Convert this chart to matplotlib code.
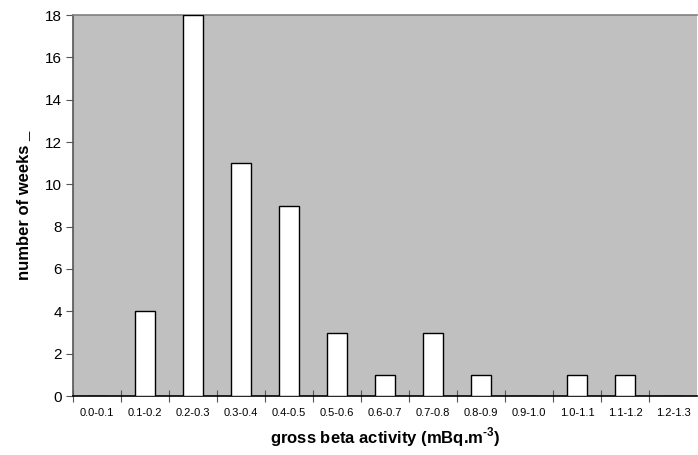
# histogram of weekly gross beta activity
import numpy as np
import matplotlib.pyplot as plt

categories = ['0.0-0.1', '0.1-0.2', '0.2-0.3', '0.3-0.4', '0.4-0.5', '0.5-0.6', '0.6-0.7',
              '0.7-0.8', '0.8-0.9', '0.9-1.0', '1.0-1.1', '1.1-1.2', '1.2-1.3']
weeks = [0, 4, 18, 11, 9, 3, 1, 3, 1, 0, 1, 1, 0]

plt.rcParams['font.family'] = ['Liberation Sans', 'DejaVu Sans']
plt.rcParams['axes.unicode_minus'] = False

fig = plt.figure(figsize=(6.98, 4.55), dpi=100)
ax = fig.add_axes([73 / 698, 59 / 455, 624 / 698, 381 / 455])
ax.set_facecolor('#c0c0c0')

x = np.arange(len(categories))
ax.bar(x, weeks, width=0.42, color='white', edgecolor='black', linewidth=1.0, zorder=3)

ax.set_xlim(-0.5, len(categories) - 0.5)
ax.set_ylim(0, 18)
ax.set_yticks(range(0, 19, 2))
ax.tick_params(axis='y', direction='out', length=5, color='#555555', labelsize=11, pad=3)

# ticks sit on the category boundaries, labels in the middle
ax.set_xticks(np.arange(-0.5, len(categories) - 0.5, 1))
ax.set_xticklabels([])
ax.set_xticks(x, minor=True)
ax.set_xticklabels(categories, minor=True, fontsize=8)
ax.tick_params(axis='x', which='major', direction='inout', length=8, color='#555555')
ax.tick_params(axis='x', which='minor', length=0, pad=9)

ax.spines['right'].set_visible(False)
ax.spines['top'].set_color('#808080')
ax.spines['left'].set_color('#555555')
ax.spines['bottom'].set_color('black')
for s in ax.spines.values():
    s.set_linewidth(1.2)

ax.set_xlabel('gross beta activity (mBq.m$^{\\mathregular{\u20103}}$)', fontsize=12, fontweight='bold', labelpad=5)
ax.set_ylabel('number of weeks _', fontsize=12, fontweight='bold', labelpad=10)

fig.savefig('out.png', dpi=100)
